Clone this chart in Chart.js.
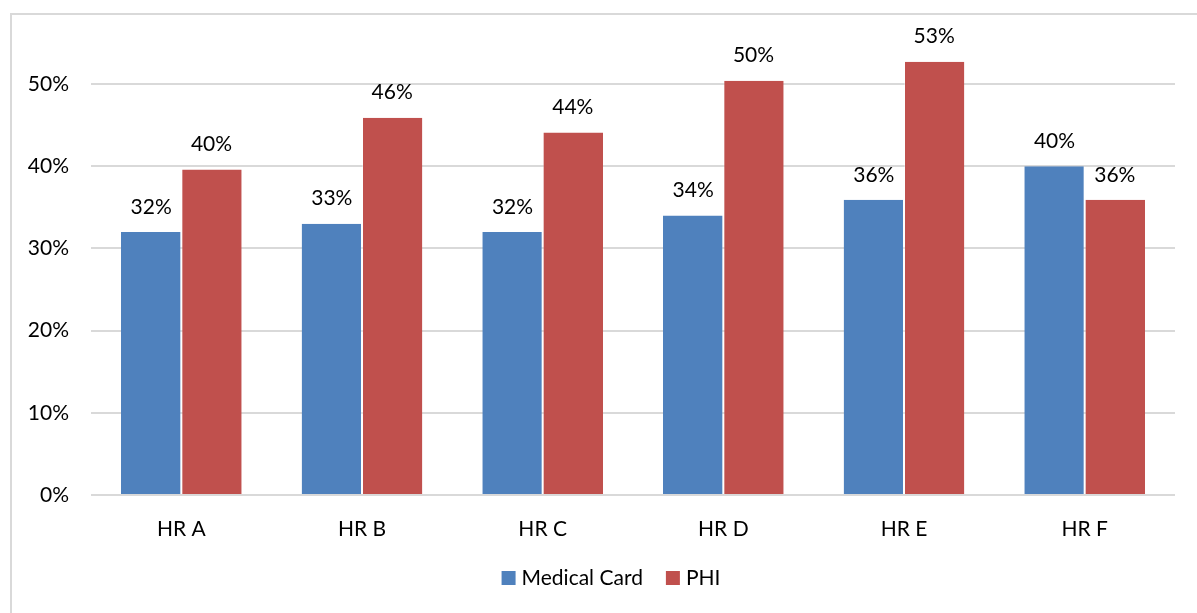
<!DOCTYPE html>
<html>
<head>
<meta charset="utf-8">
<script src="https://cdn.jsdelivr.net/npm/chart.js@4"></script>
<style>
  html, body { margin: 0; padding: 0; background: #ffffff; }
  #wrap { position: relative; width: 1197px; height: 613px; overflow: hidden; }
  #frame { position: absolute; left: 10px; top: 13px; width: 1400px; height: 800px;
           border-left: 2px solid #d9d9d9; border-top: 2px solid #d9d9d9; box-sizing: border-box; }
  canvas { position: absolute; left: 0; top: 0; }
</style>
</head>
<body>
<div id="wrap">
  <div id="frame"></div>
  <canvas id="chart" width="1197" height="613"></canvas>
</div>
<script>
// Survey shares by hospital region
const categories = ['HR A', 'HR B', 'HR C', 'HR D', 'HR E', 'HR F'];
const medicalCard = [32.0, 33.0, 32.0, 34.0, 35.9, 40.0];
const phi = [39.6, 45.9, 44.1, 50.4, 52.7, 35.9];
const yTicks = [0, 10, 20, 30, 40, 50];

const FONT = 'Lato, "Open Sans", sans-serif';
const FONT_SIZE = 21;

// Writes each bar's rounded percentage above it
const valueLabels = {
  id: 'valueLabels',
  afterDatasetsDraw(chart) {
    const ctx = chart.ctx;
    ctx.save();
    ctx.font = FONT_SIZE + 'px ' + FONT;
    ctx.fillStyle = '#000000';
    ctx.textAlign = 'center';
    ctx.textBaseline = 'middle';
    chart.data.datasets.forEach((ds, i) => {
      chart.getDatasetMeta(i).data.forEach((bar, j) => {
        ctx.fillText(Math.round(ds.data[j]) + '%', bar.x, bar.y - 25);
      });
    });
    ctx.restore();
  }
};

// Compact legend row under the axis labels
const bottomLegend = {
  id: 'bottomLegend',
  afterDraw(chart) {
    const ctx = chart.ctx;
    ctx.save();
    ctx.font = FONT_SIZE + 'px ' + FONT;
    ctx.textBaseline = 'middle';
    ctx.textAlign = 'left';
    const box = 14, gapText = 6, gapItem = 23, cy = 578;
    const items = chart.data.datasets.map(ds => ({
      text: ds.label, color: ds.backgroundColor, w: ctx.measureText(ds.label).width
    }));
    let total = 0;
    items.forEach((it, k) => { total += box + gapText + it.w + (k ? gapItem : 0); });
    let x = 611 - total / 2;
    items.forEach((it, k) => {
      if (k) x += gapItem;
      ctx.fillStyle = it.color;
      ctx.fillRect(x, cy - box / 2, box, box);
      x += box + gapText;
      ctx.fillStyle = '#000000';
      ctx.fillText(it.text, x, cy);
      x += it.w;
    });
    ctx.restore();
  }
};

new Chart(document.getElementById('chart'), {
  type: 'bar',
  data: {
    labels: categories,
    datasets: [
      { label: 'Medical Card', data: medicalCard, backgroundColor: '#4F81BD',
        borderColor: 'rgba(255,255,255,0.35)', borderWidth: { right: 1 } },
      { label: 'PHI', data: phi, backgroundColor: '#C0504D',
        borderColor: 'rgba(255,255,255,0.35)', borderWidth: { left: 1 } }
    ]
  },
  options: {
    responsive: false,
    animation: false,
    devicePixelRatio: 1,
    layout: { padding: { top: 25, right: 22, left: 0, bottom: 73 } },
    datasets: { bar: { categoryPercentage: 0.668, barPercentage: 1.0 } },
    plugins: {
      tooltip: { enabled: false },
      legend: { display: false }
    },
    scales: {
      x: {
        grid: { display: false, drawTicks: false },
        border: { display: false },
        ticks: { font: { family: FONT, size: FONT_SIZE }, color: '#000000', padding: 22 },
        afterFit(scale) { scale.height = 45; }
      },
      y: {
        min: 0,
        max: 56,
        afterBuildTicks(scale) { scale.ticks = yTicks.map(v => ({ value: v })); },
        grid: { color: '#d9d9d9', lineWidth: 2, drawTicks: false },
        border: { display: false },
        ticks: {
          font: { family: FONT, size: FONT_SIZE },
          color: '#000000',
          padding: 22,
          callback: v => v + '%'
        },
        afterFit(scale) { scale.width = 91; }
      }
    }
  },
  plugins: [valueLabels, bottomLegend]
});
</script>
</body>
</html>
